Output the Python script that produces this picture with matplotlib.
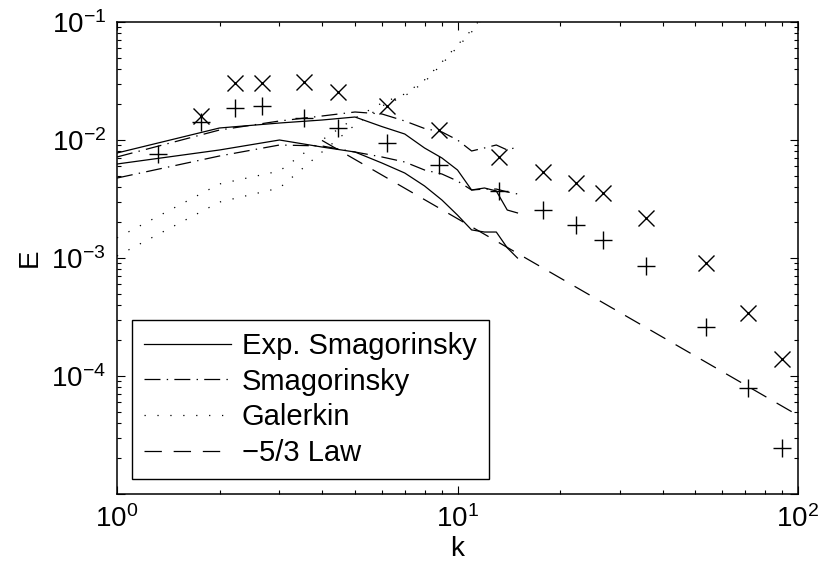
import matplotlib
matplotlib.use('Agg')
import matplotlib.pyplot as plt
from matplotlib.ticker import LogFormatterSciNotation, FuncFormatter

plt.rcParams['font.family'] = ['Liberation Sans', 'DejaVu Sans']
plt.rcParams['mathtext.fontset'] = 'custom'
plt.rcParams['mathtext.rm'] = 'Liberation Sans'
plt.rcParams['mathtext.it'] = 'Liberation Sans'
plt.rcParams['lines.scale_dashes'] = False

# ---------------- data ----------------
k_model = [1, 2, 3, 4, 5, 6, 7, 8, 9, 10, 11, 12, 13, 14, 15]

exp_smag_t1 = [0.00776, 0.01264, 0.01393, 0.01477, 0.01566, 0.01299, 0.01124, 0.00856,
               0.00704, 0.00557, 0.00377, 0.00392, 0.00370, 0.00255, 0.00241]
exp_smag_t2 = [0.00626, 0.00823, 0.01000, 0.00872, 0.00791, 0.00638, 0.00525, 0.00408,
               0.00310, 0.00231, 0.00173, 0.00166, 0.00166, 0.00122, 0.00100]

smag_t1 = [0.00718, 0.01215, 0.01449, 0.01597, 0.01727, 0.01661, 0.01449, 0.01252,
           0.01169, 0.01000, 0.00807, 0.00856, 0.00907, 0.00823, 0.00872]
smag_t2 = [0.00476, 0.00732, 0.00907, 0.00890, 0.00791, 0.00718, 0.00651, 0.00557,
           0.00515, 0.00449, 0.00377, 0.00384, 0.00384, 0.00363, 0.00349]

galerkin_t1 = [0.00148, 0.00424, 0.00546, 0.01000, 0.01536, 0.0206, 0.02454, 0.03225,
               0.0458, 0.0638, 0.0856, 0.1169, 0.1477, 0.187, 0.227]
galerkin_t2 = [0.00104, 0.00298, 0.00392, 0.00791, 0.01340, 0.01941, 0.0236, 0.0310,
               0.0441, 0.0614, 0.0823, 0.1124, 0.1421, 0.180, 0.218]

law_k = [4, 100]
law_E = [0.00992, 4.64e-5]

k_exp_x = [1.76, 2.22, 2.67, 3.54, 4.46, 6.21, 8.83, 13.2, 17.8, 22.3, 26.7, 35.8, 53.7, 71.3, 89.7]
E_exp_x = [0.0160, 0.0302, 0.0302, 0.0312, 0.0257, 0.0194, 0.0122, 0.00722, 0.00533,
           0.00435, 0.00353, 0.00217, 0.000902, 0.000344, 0.000139]

k_exp_p = [1.32, 1.76, 2.22, 2.67, 3.54, 4.46, 6.21, 8.83, 13.2, 17.8, 22.3, 26.7, 35.8,
           53.7, 71.3, 89.7]
E_exp_p = [0.00761, 0.0143, 0.0186, 0.0194, 0.0153, 0.0126, 0.00938, 0.00614, 0.00372,
           0.00255, 0.00191, 0.00142, 0.000855, 0.000259, 7.87e-5, 2.44e-5]

legend_labels = ['Exp. Smagorinsky', 'Smagorinsky', 'Galerkin', '\u22125/3 Law']

# ---------------- figure ----------------
W, H = 824, 581
fig = plt.figure(figsize=(W / 100, H / 100), dpi=100)
ax = fig.add_axes([117 / W, 1 - 494 / H, (798 - 117) / W, (494 - 22) / H])

lw = 0.9
dashdot = (0, (11.5, 4.5, 1.0, 4.5))
dotted = (0, (0.9, 8.4))
dashed = (0, (12.5, 8.5))

l1, = ax.plot(k_model, exp_smag_t1, color='k', lw=lw, ls='-', label=legend_labels[0])
ax.plot(k_model, exp_smag_t2, color='k', lw=lw, ls='-')
l2, = ax.plot(k_model, smag_t1, color='k', lw=lw, ls=dashdot, label=legend_labels[1])
ax.plot(k_model, smag_t2, color='k', lw=lw, ls=dashdot)
l3, = ax.plot(k_model, galerkin_t1, color='k', lw=lw, ls=dotted, label=legend_labels[2])
ax.plot(k_model, galerkin_t2, color='k', lw=lw, ls=dotted)
l4, = ax.plot(law_k, law_E, color='k', lw=lw, ls=dashed, label=legend_labels[3])

ax.plot(k_exp_x, E_exp_x, ls='none', marker='x', ms=11.5, mew=1.0, color='k')
ax.plot(k_exp_p, E_exp_p, ls='none', marker='+', ms=13, mew=1.0, color='k')

ax.set_xscale('log')
ax.set_yscale('log')
ax.set_xlim(1, 100)
ax.set_ylim(1e-5, 1e-1)

base_fmt = LogFormatterSciNotation()
def yfmt(v, pos):
    if v < 2e-5:
        return ''
    base_fmt.axis = ax.yaxis
    return base_fmt(v, pos)
ax.yaxis.set_major_formatter(FuncFormatter(yfmt))

for s in ax.spines.values():
    s.set_linewidth(1.1)

ax.tick_params(which='both', direction='in', top=True, right=True, labelsize=20, width=0.8)
ax.tick_params(which='major', length=6, pad=8)
ax.tick_params(which='minor', length=3)

ax.set_xlabel('k', fontsize=20, labelpad=2)
ax.set_ylabel('E', fontsize=20, labelpad=6)

leg = ax.legend(handles=[l1, l2, l3, l4], loc='lower left',
                bbox_to_anchor=(0.0216, 0.0318), borderaxespad=0,
                fontsize=21, handlelength=3.0, handletextpad=0.35,
                labelspacing=0.26, borderpad=0.42, fancybox=False,
                edgecolor='k', framealpha=1)
leg.get_frame().set_linewidth(1.0)

fig.savefig('out.png', dpi=100)
